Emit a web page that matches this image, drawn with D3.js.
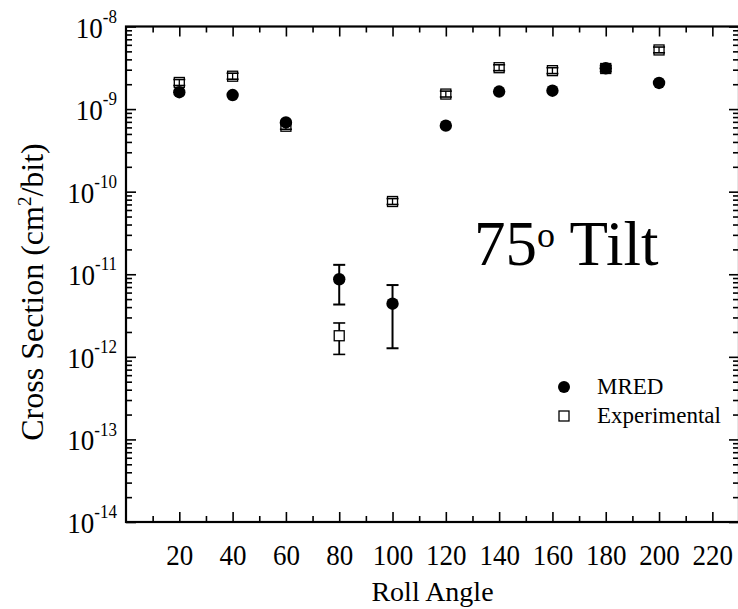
<!DOCTYPE html>
<html>
<head>
<meta charset="utf-8">
<script src="https://cdn.jsdelivr.net/npm/d3@7"></script>
<style>
  body { margin: 0; background: #fff; }
  svg text { font-family: 'Liberation Serif', 'Times New Roman', serif; fill: #000; }
</style>
</head>
<body>
<div id="chart"></div>
<script>
// roll angle (deg)
const angles = [20, 40, 60, 80, 100, 120, 140, 160, 180, 200];
// MRED simulation, cm^2/bit
const mred = [1.6e-9, 1.48e-9, 6.9e-10, 8.7e-12, 4.4e-12, 6.3e-10, 1.63e-9, 1.67e-9, 3.12e-9, 2.07e-9];
const mredLow = [null, null, null, 4.3e-12, 1.27e-12, null, null, null, null, null];
const mredHigh = [null, null, null, 1.3e-11, 7.4e-12, null, null, null, null, null];
// experimental, cm^2/bit
const expt = [2.1e-9, 2.5e-9, 6.2e-10, 1.8e-12, 7.6e-11, 1.52e-9, 3.17e-9, 2.92e-9, 3.1e-9, 5.2e-9];
const exptLow = [1.93e-9, 2.3e-9, 5.7e-10, 1.07e-12, 7.0e-11, 1.4e-9, 2.92e-9, 2.69e-9, 2.85e-9, 4.8e-9];
const exptHigh = [2.28e-9, 2.72e-9, 6.7e-10, 2.57e-12, 8.25e-11, 1.65e-9, 3.44e-9, 3.17e-9, 3.37e-9, 5.64e-9];

const xMajor = [20, 40, 60, 80, 100, 120, 140, 160, 180, 200, 220];
const xMinor = [10, 30, 50, 70, 90, 110, 130, 150, 170, 190, 210];
const yExp = [-8, -9, -10, -11, -12, -13, -14];

const width = 738, height = 609;
const m = { left: 126, right: 739, top: 26.5, bottom: 522 };

const svg = d3.select('#chart').append('svg')
  .attr('width', width)
  .attr('height', height);

const x = d3.scaleLinear().domain([0, 230]).range([m.left, m.right]);
const y = d3.scaleLog().domain([1e-14, 1e-8]).range([m.bottom, m.top]);

const yMinor = [];
yExp.slice(1).forEach((e) => {
  for (let k = 2; k <= 9; k++) yMinor.push(k * Math.pow(10, e));
});
const yMajor = yExp.map((e) => Math.pow(10, e));

function tickAxis(axis, pos, vals, size) {
  const g = svg.append('g')
    .attr('transform', pos)
    .call(axis.tickValues(vals).tickSize(size).tickFormat(''));
  g.select('.domain').remove();
  g.selectAll('.tick line').attr('stroke', '#000').attr('stroke-width', 1.6);
  return g;
}

// bottom / top
const xLab = tickAxis(d3.axisBottom(x), `translate(0,${m.bottom})`, xMajor, -10);
tickAxis(d3.axisBottom(x), `translate(0,${m.bottom})`, xMinor, -6);
tickAxis(d3.axisTop(x), `translate(0,${m.top})`, xMajor, -10);
tickAxis(d3.axisTop(x), `translate(0,${m.top})`, xMinor, -6);
// left / right
const yLab = tickAxis(d3.axisLeft(y), `translate(${m.left},0)`, yMajor, -10);
tickAxis(d3.axisLeft(y), `translate(${m.left},0)`, yMinor, -6);
tickAxis(d3.axisRight(y), `translate(${m.right},0)`, yMajor, -10);
tickAxis(d3.axisRight(y), `translate(${m.right},0)`, yMinor, -6);

// digits in the source are a little taller than wide
const stretch = 1.1;

xLab.selectAll('.tick').append('text')
  .attr('transform', `translate(0,43) scale(1,${stretch})`)
  .attr('text-anchor', 'middle')
  .style('font-size', '27px')
  .text((d) => d);

const yText = yLab.selectAll('.tick').append('text')
  .attr('transform', `translate(-9,10.5) scale(1,${stretch})`)
  .attr('text-anchor', 'end');
yText.append('tspan').style('font-size', '27px').text('10');
yText.append('tspan').attr('dy', -13.5).style('font-size', '17px')
  .text((d) => Math.round(Math.log10(d)));

// frame
svg.append('rect')
  .attr('x', m.left).attr('y', m.top)
  .attr('width', m.right - m.left).attr('height', m.bottom - m.top)
  .attr('fill', 'none').attr('stroke', '#000').attr('stroke-width', 2.2);

// experimental: open squares with error bars
const sq = 10;
const eg = svg.append('g');
angles.forEach((a, i) => {
  const cx = x(a), cy = y(expt[i]);
  eg.append('rect')
    .attr('x', cx - sq / 2).attr('y', cy - sq / 2)
    .attr('width', sq).attr('height', sq)
    .attr('fill', '#fff').attr('stroke', '#000').attr('stroke-width', 1.3);
  const yh = y(exptHigh[i]), yl = y(exptLow[i]);
  if (yh < cy - sq / 2 || yl > cy + sq / 2) {
    eg.append('line').attr('x1', cx).attr('x2', cx)
      .attr('y1', yh).attr('y2', cy - sq / 2)
      .attr('stroke', '#000').attr('stroke-width', 1.8);
    eg.append('line').attr('x1', cx).attr('x2', cx)
      .attr('y1', cy + sq / 2).attr('y2', yl)
      .attr('stroke', '#000').attr('stroke-width', 1.8);
  } else {
    eg.append('line').attr('x1', cx).attr('x2', cx)
      .attr('y1', yh).attr('y2', yl)
      .attr('stroke', '#000').attr('stroke-width', 1.3);
  }
  [yh, yl].forEach((yy) => {
    eg.append('line').attr('x1', cx - 6).attr('x2', cx + 6)
      .attr('y1', yy).attr('y2', yy)
      .attr('stroke', '#000').attr('stroke-width', 1.6);
  });
});

// MRED: filled circles
const mg = svg.append('g');
angles.forEach((a, i) => {
  const cx = x(a);
  if (mredLow[i] != null) {
    const yh = y(mredHigh[i]), yl = y(mredLow[i]);
    mg.append('line').attr('x1', cx).attr('x2', cx)
      .attr('y1', yh).attr('y2', yl)
      .attr('stroke', '#000').attr('stroke-width', 2);
    [yh, yl].forEach((yy) => {
      mg.append('line').attr('x1', cx - 6).attr('x2', cx + 6)
        .attr('y1', yy).attr('y2', yy)
        .attr('stroke', '#000').attr('stroke-width', 2);
    });
  }
  mg.append('circle')
    .attr('cx', cx).attr('cy', y(mred[i])).attr('r', 6.2)
    .attr('fill', '#000');
});

// legend
const lg = svg.append('g');
lg.append('circle').attr('cx', 564).attr('cy', 387).attr('r', 6).attr('fill', '#000');
lg.append('text').attr('x', 597).attr('y', 394).style('font-size', '23px').text('MRED');
lg.append('rect').attr('x', 559).attr('y', 411).attr('width', sq).attr('height', sq)
  .attr('fill', '#fff').attr('stroke', '#000').attr('stroke-width', 1.3);
lg.append('text').attr('x', 597).attr('y', 423).style('font-size', '23px').text('Experimental');

// annotation
const ann = svg.append('text').attr('x', 474).attr('y', 265);
ann.append('tspan').style('font-size', '63px').text('75');
ann.append('tspan').attr('dy', -18).style('font-size', '36px').text('o');
ann.append('tspan').attr('dy', 18).style('font-size', '63px').text(' Tilt');

// axis titles
svg.append('text')
  .attr('x', (m.left + m.right) / 2).attr('y', 601)
  .attr('text-anchor', 'middle')
  .style('font-size', '28px')
  .text('Roll Angle');

const yt = svg.append('text')
  .attr('transform', 'translate(43,292) rotate(-90)')
  .attr('text-anchor', 'middle')
  .style('font-size', '32px');
yt.append('tspan').text('Cross Section (cm');
yt.append('tspan').attr('dy', -12).style('font-size', '19px').text('2');
yt.append('tspan').attr('dy', 12).text('/bit)');
</script>
</body>
</html>
